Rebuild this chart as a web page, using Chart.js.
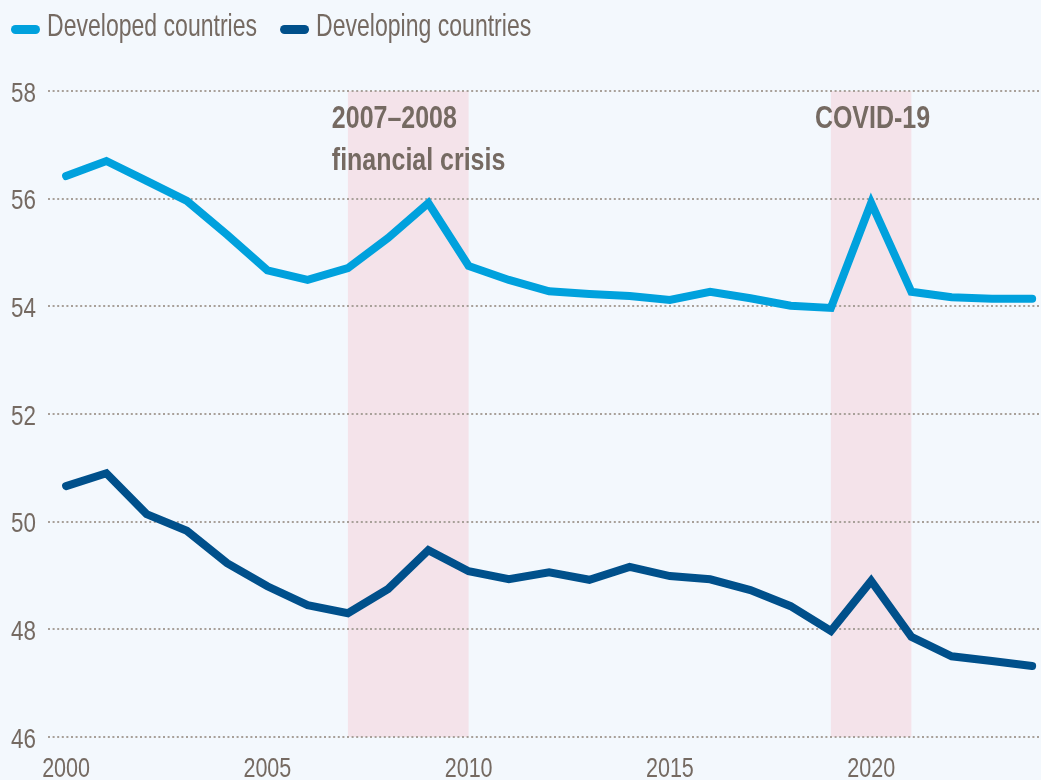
<!DOCTYPE html>
<html>
<head>
<meta charset="utf-8">
<script src="https://cdn.jsdelivr.net/npm/chart.js@4/dist/chart.umd.min.js"></script>
<style>
  html, body { margin: 0; padding: 0; background: #f3f8fd; }
  #wrap { width: 1041px; height: 780px; position: relative; }
</style>
</head>
<body>
<div id="wrap"><canvas id="c" width="1041" height="780"></canvas></div>
<script>
const years = [2000,2001,2002,2003,2004,2005,2006,2007,2008,2009,2010,2011,2012,2013,2014,2015,2016,2017,2018,2019,2020,2021,2022,2023,2024];
const developed = [56.42,56.70,56.33,55.96,55.33,54.67,54.49,54.71,55.27,55.92,54.75,54.49,54.28,54.23,54.19,54.12,54.27,54.15,54.01,53.97,55.92,54.27,54.17,54.14,54.14];
const developing = [50.66,50.90,50.14,49.83,49.23,48.80,48.45,48.30,48.75,49.47,49.08,48.93,49.06,48.92,49.16,48.99,48.93,48.73,48.43,47.97,48.90,47.86,47.50,47.41,47.32];
const xTicks = [2000,2005,2010,2015,2020];
const yTicks = [46,48,50,52,54,56,58];
const seriesNames = ['Developed countries','Developing countries'];
const seriesColors = ['#00a1dd','#00508b'];
const shadedPeriods = [{from:2007,to:2010,lines:['2007\u20132008','financial crisis']},{from:2019,to:2021,lines:['COVID-19']}];

const textColor = '#756a62';
const baseFont = '"Liberation Sans", Arial, sans-serif';

function squeezedText(ctx, text, x, y, sx, align) {
  ctx.save();
  ctx.translate(x, y);
  ctx.scale(sx, 1);
  ctx.textAlign = align;
  ctx.fillText(text, 0, 0);
  ctx.restore();
}

const shadePlugin = {
  id: 'shade',
  beforeDraw(chart) {
    const {ctx, scales} = chart;
    ctx.save();
    ctx.fillStyle = '#f3f8fd';
    ctx.fillRect(0, 0, chart.width, chart.height);
    ctx.fillStyle = '#f4e3ea';
    const yTop = scales.y.getPixelForValue(58);
    const yBot = scales.y.getPixelForValue(46);
    shadedPeriods.forEach(p => {
      const x0 = scales.x.getPixelForValue(p.from);
      const x1 = scales.x.getPixelForValue(p.to);
      ctx.fillRect(x0, yTop, x1 - x0, yBot - yTop);
    });
    ctx.restore();
  },
  afterDraw(chart) {
    const {ctx, scales} = chart;
    ctx.save();
    ctx.fillStyle = textColor;
    ctx.textBaseline = 'alphabetic';
    // axis tick labels
    ctx.font = '28px ' + baseFont;
    scales.x.ticks.forEach(t => {
      squeezedText(ctx, String(t.value), scales.x.getPixelForValue(t.value), 777, 0.77, 'center');
    });
    scales.y.ticks.forEach(t => {
      squeezedText(ctx, String(t.value), 36, scales.y.getPixelForValue(t.value) + 10.5, 0.8, 'right');
    });
    // annotations
    ctx.font = 'bold 32px ' + baseFont;
    shadedPeriods.forEach(p => {
      const x0 = scales.x.getPixelForValue(p.from) - 16;
      p.lines.forEach((ln, i) => {
        squeezedText(ctx, ln, x0, 128 + i * 42, 0.78, 'left');
      });
    });
    // legend
    ctx.font = '32px ' + baseFont;
    let x = 11;
    seriesNames.forEach((name, i) => {
      ctx.fillStyle = seriesColors[i];
      ctx.beginPath();
      ctx.roundRect(x, 25, 29, 9, 4.5);
      ctx.fill();
      ctx.fillStyle = textColor;
      squeezedText(ctx, name, x + 36, 36, 0.72, 'left');
      x = x + 36 + ctx.measureText(name).width * 0.72 + 23;
    });
    ctx.restore();
  }
};

new Chart(document.getElementById('c'), {
  type: 'line',
  data: {
    labels: years,
    datasets: [
      { label: seriesNames[0], data: years.map((y,i)=>({x:y,y:developed[i]})), borderColor: seriesColors[0], backgroundColor: seriesColors[0], borderWidth: 8, pointRadius: 0, tension: 0, borderCapStyle: 'round', borderJoinStyle: 'miter' },
      { label: seriesNames[1], data: years.map((y,i)=>({x:y,y:developing[i]})), borderColor: seriesColors[1], backgroundColor: seriesColors[1], borderWidth: 8, pointRadius: 0, tension: 0, borderCapStyle: 'round', borderJoinStyle: 'miter' }
    ]
  },
  options: {
    responsive: false,
    animation: false,
    devicePixelRatio: 1,
    layout: { padding: { top: 91, right: 0, left: 0, bottom: 0 } },
    plugins: { legend: { display: false }, tooltip: { enabled: false } },
    scales: {
      x: {
        type: 'linear',
        min: 1999.55,
        max: 2024.22,
        afterBuildTicks(s) { s.ticks = xTicks.map(v => ({value: v})); },
        afterFit(s) { s.height = 43; },
        grid: { display: false, drawTicks: false },
        border: { display: false },
        ticks: { display: false, autoSkip: false }
      },
      y: {
        min: 46,
        max: 58,
        afterBuildTicks(s) { s.ticks = yTicks.map(v => ({value: v})); },
        afterFit(s) { s.width = 48; },
        grid: { color: '#a8a099', lineWidth: 2, drawTicks: false },
        border: { display: false, dash: [2, 2.6] },
        ticks: { display: false, autoSkip: false }
      }
    }
  },
  plugins: [shadePlugin]
});
</script>
</body>
</html>
